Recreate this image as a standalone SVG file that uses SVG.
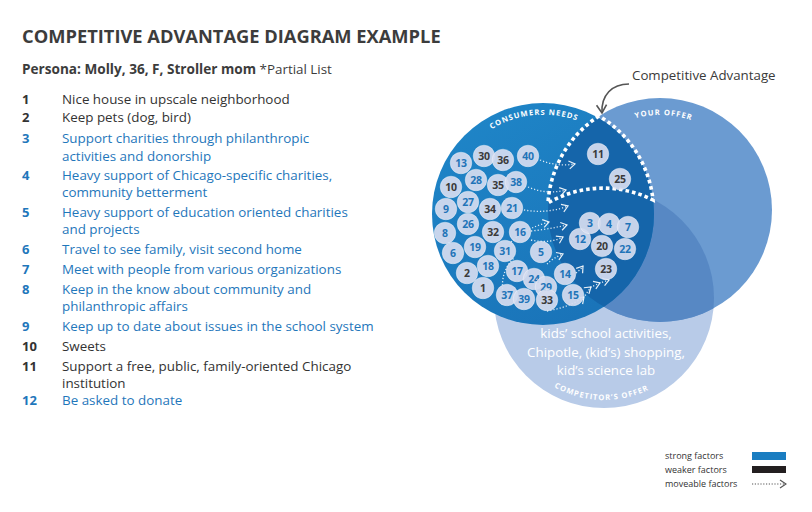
<svg xmlns="http://www.w3.org/2000/svg" width="812" height="512" viewBox="0 0 812 512">
<style>
text{font-family:"Open Sans","Noto Sans","DejaVu Sans",sans-serif}
.title{font-size:18.3px;font-weight:700;fill:#3c3c3c}
.sub{font-size:13.6px;font-weight:700;fill:#3c3c3c}
.num{font-size:13px;font-weight:700}
.item{font-size:13.4px}
.dk{fill:#333}
.bl{fill:#1f77bb}
.node circle{fill:#d4dbef;fill-opacity:.93;stroke:#fff;stroke-opacity:.45;stroke-width:.8}
.node text{font-size:10.5px;font-weight:700;text-anchor:middle;letter-spacing:-.2px}
.node .b{fill:#1f74b8}
.node .k{fill:#3a3a3a}
.arc{font-size:7.6px;font-weight:700;fill:#fff;letter-spacing:1px}
.mv{fill:none;stroke:#fff;stroke-width:1.3;stroke-dasharray:1.2 2;stroke-opacity:.85}
.inner{font-size:13.3px;fill:#fff;text-anchor:middle}
.leg{font-size:9px;fill:#333}
</style>
<defs>
<marker id="chev" viewBox="0 0 8 10" refX="7" refY="5" markerWidth="8" markerHeight="10" markerUnits="userSpaceOnUse" orient="auto">
<path d="M1,1 L7,5 L1,9" fill="none" stroke="#fff" stroke-width="1.2" stroke-opacity=".9"/>
</marker>
<marker id="chevg" viewBox="0 0 8 10" refX="7" refY="5" markerWidth="8" markerHeight="10" markerUnits="userSpaceOnUse" orient="auto">
<path d="M1,1 L7,5 L1,9" fill="none" stroke="#555" stroke-width="1.2"/>
</marker>
<marker id="arrowCA" viewBox="0 0 12 12" refX="10" refY="6" markerWidth="12" markerHeight="12" markerUnits="userSpaceOnUse" orient="auto">
<path d="M2,1 L10,6 L2,11" fill="none" stroke="#555" stroke-width="1.6"/>
</marker>
<clipPath id="clipComp"><circle cx="604" cy="298" r="110"/></clipPath>
<clipPath id="clipOffer"><circle cx="660" cy="210" r="112"/></clipPath>
<linearGradient id="gCons" x1="0" y1="0" x2="0.6" y2="1">
<stop offset="0" stop-color="#1f87c9"/>
<stop offset="1" stop-color="#1a74b9"/>
</linearGradient>
<path id="pCons" d="M472.3,144.7 A98,98 0 0,1 613.7,144.7"/>
<path id="pOffer" d="M592.8,142.8 A95,95 0 0,1 727.2,142.8"/>
<path id="pComp" d="M525.9,363.6 A102,102 0 0,0 682.1,363.6"/>
</defs>

<rect width="812" height="512" fill="#fff"/>

<text class="title" x="22" y="43">COMPETITIVE ADVANTAGE DIAGRAM EXAMPLE</text>
<text class="sub" x="22" y="74">Persona: Molly, 36, F, Stroller mom<tspan font-weight="400" font-size="13.4px"> *Partial List</tspan></text>

<g id="list">
<text class="num dk" x="22" y="104">1</text><text class="item dk" x="62" y="104">Nice house in upscale neighborhood</text>
<text class="num dk" x="22" y="122">2</text><text class="item dk" x="62" y="122">Keep pets (dog, bird)</text>
<text class="num bl" x="22" y="143">3</text><text class="item bl" x="62" y="143">Support charities through philanthropic</text>
<text class="item bl" x="62" y="161">activities and donorship</text>
<text class="num bl" x="22" y="180">4</text><text class="item bl" x="62" y="180">Heavy support of Chicago-specific charities,</text>
<text class="item bl" x="62" y="197">community betterment</text>
<text class="num bl" x="22" y="217">5</text><text class="item bl" x="62" y="217">Heavy support of education oriented charities</text>
<text class="item bl" x="62" y="234">and projects</text>
<text class="num bl" x="22" y="254">6</text><text class="item bl" x="62" y="254">Travel to see family, visit second home</text>
<text class="num bl" x="22" y="274">7</text><text class="item bl" x="62" y="274">Meet with people from various organizations</text>
<text class="num bl" x="22" y="294">8</text><text class="item bl" x="62" y="294">Keep in the know about community and</text>
<text class="item bl" x="62" y="311">philanthropic affairs</text>
<text class="num bl" x="22" y="331">9</text><text class="item bl" x="62" y="331">Keep up to date about issues in the school system</text>
<text class="num dk" x="22" y="351">10</text><text class="item dk" x="62" y="351">Sweets</text>
<text class="num dk" x="22" y="371">11</text><text class="item dk" x="62" y="371">Support a free, public, family-oriented Chicago</text>
<text class="item dk" x="62" y="388">institution</text>
<text class="num bl" x="22" y="405">12</text><text class="item bl" x="62" y="405">Be asked to donate</text>
</g>

<g id="competitor-offer">
<circle cx="604" cy="298" r="110" fill="#b8cbe8"/>
</g>
<g id="your-offer">
<circle cx="660" cy="210" r="112" fill="#6b9bd1"/>
<circle cx="660" cy="210" r="112" fill="#5788c4" clip-path="url(#clipComp)"/>
<text class="arc"><textPath href="#pOffer" startOffset="52.5%" text-anchor="middle">YOUR OFFER</textPath></text>
</g>
<g id="consumers-needs">
<circle cx="543" cy="214" r="111" fill="url(#gCons)"/>
<circle cx="543" cy="214" r="111" fill="#1565aa" clip-path="url(#clipOffer)"/>
<text class="arc"><textPath href="#pCons" startOffset="44%" text-anchor="middle">CONSUMERS NEEDS</textPath></text>
</g>
<g id="competitor-label">
<text class="arc"><textPath href="#pComp" startOffset="48.5%" text-anchor="middle">COMPETITOR’S OFFER</textPath></text>
<text class="inner" x="606" y="338">kids’ school activities,</text>
<text class="inner" x="606" y="357">Chipotle, (kid’s) shopping,</text>
<text class="inner" x="606" y="375">kid’s science lab</text>
</g>
<g id="competitive-advantage">
<path d="M599,116 A112,112 0 0,0 548,203 A110,110 0 0,1 653,200 A111,111 0 0,0 599,116 Z" fill="none" stroke="#fff" stroke-width="3.6" stroke-dasharray="3.6 3"/>
<text x="632" y="80" font-size="13.3px" fill="#3a3a3a">Competitive Advantage</text>
</g>

<g id="connectors">
<path d="M629,84 C612,84 601,95 602,113" fill="none" stroke="#555" stroke-width="1.6" marker-end="url(#arrowCA)"/>
<path class="mv" d="M540,160 Q557,167 575,164" marker-end="url(#chev)"/>
<path class="mv" d="M528,187 Q547,195 566,190" marker-end="url(#chev)"/>
<path class="mv" d="M524,210 Q547,214 568,206" marker-end="url(#chev)"/>
<path class="mv" d="M531,231 Q550,229 567,225" marker-end="url(#chev)"/>
<path class="mv" d="M511,242 Q526,228 549,222" marker-end="url(#chev)"/>
<path class="mv" d="M531,240 Q549,244 563,237" marker-end="url(#chev)"/>
<path class="mv" d="M547,264 Q553,258 563,254" marker-end="url(#chev)"/>
<path class="mv" d="M576,273 Q580,270 583,266" marker-end="url(#chev)"/>
<path class="mv" d="M503,292 Q500,272 514,258"/>
<path class="mv" d="M547,311 Q570,307 584,297 L591,287 L600,283 L609,280" marker-mid="url(#chev)" marker-end="url(#chev)"/>
</g>

<g id="n13" class="node"><circle cx="461" cy="163" r="10.8"/><text class="b" x="461" y="167">13</text></g>
<g id="n30" class="node"><circle cx="484" cy="156" r="10.8"/><text class="k" x="484" y="160">30</text></g>
<g id="n36" class="node"><circle cx="503" cy="160" r="10.8"/><text class="k" x="503" y="164">36</text></g>
<g id="n40" class="node"><circle cx="528" cy="156" r="10.8"/><text class="b" x="528" y="160">40</text></g>
<g id="n28" class="node"><circle cx="476" cy="180" r="10.8"/><text class="b" x="476" y="184">28</text></g>
<g id="n10" class="node"><circle cx="451" cy="187" r="10.8"/><text class="k" x="451" y="191">10</text></g>
<g id="n35" class="node"><circle cx="498" cy="185" r="10.8"/><text class="k" x="498" y="189">35</text></g>
<g id="n38" class="node"><circle cx="516" cy="182" r="10.8"/><text class="b" x="516" y="186">38</text></g>
<g id="n27" class="node"><circle cx="468" cy="202" r="10.8"/><text class="b" x="468" y="206">27</text></g>
<g id="n9" class="node"><circle cx="446" cy="209" r="10.8"/><text class="b" x="446" y="213">9</text></g>
<g id="n34" class="node"><circle cx="490" cy="209" r="10.8"/><text class="k" x="490" y="213">34</text></g>
<g id="n21" class="node"><circle cx="512" cy="208" r="10.8"/><text class="b" x="512" y="212">21</text></g>
<g id="n26" class="node"><circle cx="468" cy="224" r="10.8"/><text class="b" x="468" y="228">26</text></g>
<g id="n32" class="node"><circle cx="493" cy="232" r="10.8"/><text class="k" x="493" y="236">32</text></g>
<g id="n16" class="node"><circle cx="520" cy="232" r="10.8"/><text class="b" x="520" y="236">16</text></g>
<g id="n8" class="node"><circle cx="445" cy="233" r="10.8"/><text class="b" x="445" y="237">8</text></g>
<g id="n19" class="node"><circle cx="475" cy="247" r="10.8"/><text class="b" x="475" y="251">19</text></g>
<g id="n6" class="node"><circle cx="453" cy="253" r="10.8"/><text class="b" x="453" y="257">6</text></g>
<g id="n31" class="node"><circle cx="505" cy="251" r="10.8"/><text class="b" x="505" y="255">31</text></g>
<g id="n5" class="node"><circle cx="541" cy="252" r="10.8"/><text class="b" x="541" y="256">5</text></g>
<g id="n18" class="node"><circle cx="488" cy="266" r="10.8"/><text class="b" x="488" y="270">18</text></g>
<g id="n2" class="node"><circle cx="467" cy="273" r="10.8"/><text class="k" x="467" y="277">2</text></g>
<g id="n17" class="node"><circle cx="517" cy="271" r="10.8"/><text class="b" x="517" y="275">17</text></g>
<g id="n24" class="node"><circle cx="534" cy="279" r="10.8"/><text class="b" x="534" y="283">24</text></g>
<g id="n14" class="node"><circle cx="565" cy="274" r="10.8"/><text class="b" x="565" y="278">14</text></g>
<g id="n1" class="node"><circle cx="483" cy="288" r="10.8"/><text class="k" x="483" y="292">1</text></g>
<g id="n29" class="node"><circle cx="546" cy="287" r="10.8"/><text class="b" x="546" y="291">29</text></g>
<g id="n37" class="node"><circle cx="507" cy="295" r="10.8"/><text class="b" x="507" y="299">37</text></g>
<g id="n39" class="node"><circle cx="524" cy="299" r="10.8"/><text class="b" x="524" y="303">39</text></g>
<g id="n33" class="node"><circle cx="547" cy="300" r="10.8"/><text class="k" x="547" y="304">33</text></g>
<g id="n15" class="node"><circle cx="573" cy="295" r="10.8"/><text class="b" x="573" y="299">15</text></g>
<g id="n12" class="node"><circle cx="580" cy="239" r="10.8"/><text class="b" x="580" y="243">12</text></g>
<g id="n3" class="node"><circle cx="590" cy="223" r="10.8"/><text class="b" x="590" y="227">3</text></g>
<g id="n4" class="node"><circle cx="609" cy="224" r="10.8"/><text class="b" x="609" y="228">4</text></g>
<g id="n7" class="node"><circle cx="628" cy="227" r="10.8"/><text class="b" x="628" y="231">7</text></g>
<g id="n20" class="node"><circle cx="602" cy="246" r="10.8"/><text class="k" x="602" y="250">20</text></g>
<g id="n22" class="node"><circle cx="625" cy="249" r="10.8"/><text class="b" x="625" y="253">22</text></g>
<g id="n23" class="node"><circle cx="606" cy="269" r="10.8"/><text class="k" x="606" y="273">23</text></g>
<g id="n11" class="node"><circle cx="598" cy="154" r="10.8"/><text class="k" x="598" y="158">11</text></g>
<g id="n25" class="node"><circle cx="620" cy="179" r="10.8"/><text class="k" x="620" y="183">25</text></g>

<g id="legend">
<text class="leg" x="665" y="459">strong factors</text>
<rect x="752" y="452" width="34" height="8" fill="#1a7dc1"/>
<text class="leg" x="665" y="473">weaker factors</text>
<rect x="752" y="466" width="34" height="7" fill="#231f20"/>
<text class="leg" x="665" y="487">moveable factors</text>
<path d="M752,484 L786,484" fill="none" stroke="#555" stroke-width="1.2" stroke-dasharray="1.2 1.6" marker-end="url(#chevg)"/>
</g>
</svg>
